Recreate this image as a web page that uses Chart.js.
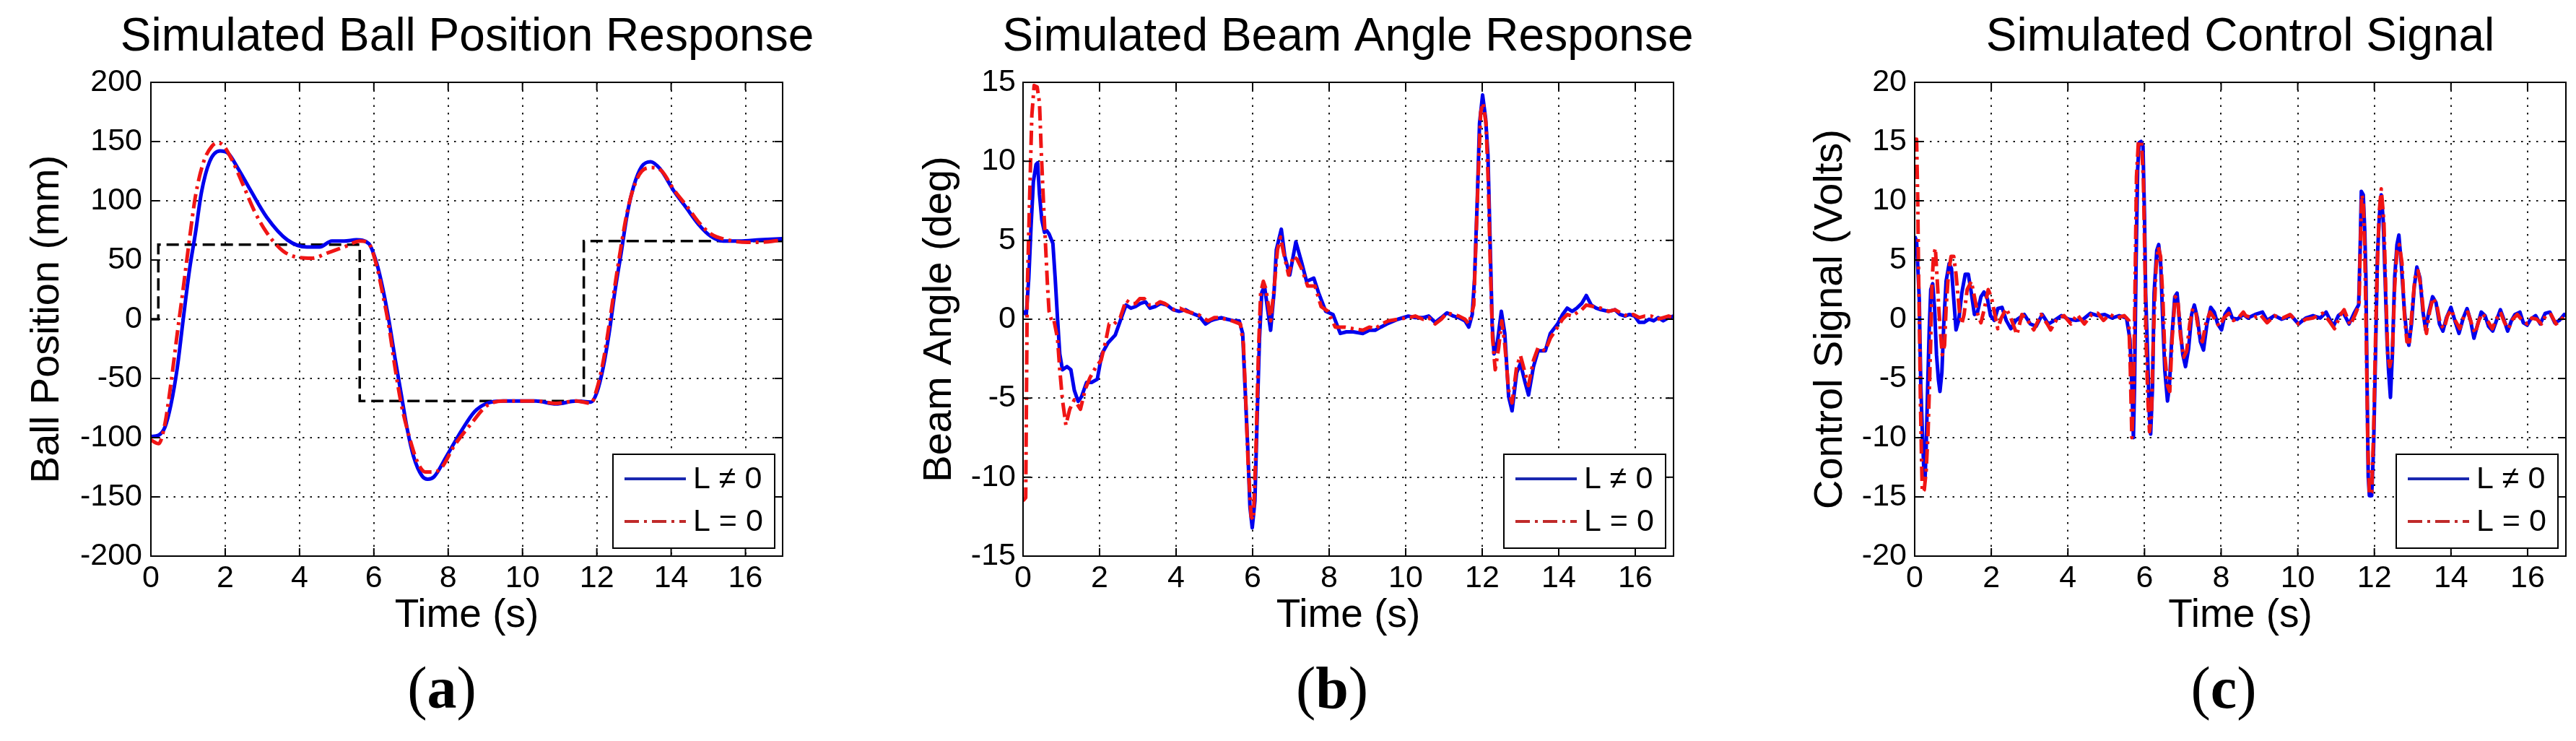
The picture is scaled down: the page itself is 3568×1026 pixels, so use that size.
<!DOCTYPE html>
<html>
<head>
<meta charset="utf-8">
<script src="https://cdn.jsdelivr.net/npm/chart.js@4.4.1/dist/chart.umd.min.js"></script>
<style>
html, body { margin:0; padding:0; background:#fff; width:3568px; height:1026px; overflow:hidden; }
body { position:relative; }
canvas { position:absolute; top:0; }
.cap { position:absolute; font-family:"Liberation Serif","Times New Roman",serif; font-size:82px; line-height:82px; color:#000; white-space:nowrap; transform:translateX(-50%); }
.cap b { font-weight:bold; }
</style>
</head>
<body>
<canvas id="cA" width="1294" height="1026" style="left:0px"></canvas>
<canvas id="cB" width="1374" height="1026" style="left:1180px"></canvas>
<canvas id="cC" width="1470" height="1026" style="left:2368px"></canvas>
<div class="cap" style="left:612px;top:912px">(<b>a</b>)</div>
<div class="cap" style="left:1845px;top:912px">(<b>b</b>)</div>
<div class="cap" style="left:3080px;top:912px">(<b>c</b>)</div>
<script>
// ---------------- DATA ----------------
const xTicks = [0, 2, 4, 6, 8, 10, 12, 14, 16];
const yTicksA = [-200, -150, -100, -50, 0, 50, 100, 150, 200];
const yTicksB = [-15, -10, -5, 0, 5, 10, 15];
const yTicksC = [-20, -15, -10, -5, 0, 5, 10, 15, 20];

const titles = ['Simulated Ball Position Response', 'Simulated Beam Angle Response', 'Simulated Control Signal'];
const yTitles = ['Ball Position (mm)', 'Beam Angle (deg)', 'Control Signal (Volts)'];
const xTitle = 'Time (s)';
const seriesLabels = ['L \u2260 0', 'L = 0'];

// (a) ball position: reference step [time, mm]
const ballRef = [[0,0],[0.2,0],[0.2,63],[5.62,63],[5.62,-69],[11.65,-69],[11.65,66],[17,66]];
// (a) ball position, L != 0
const ballBlue = [[0,-99],[0.2,-98],[0.38,-91],[0.54,-72],[0.71,-41],[0.87,0],[1.04,42],[1.2,73],[1.36,107],[1.58,133],[1.86,142],[2.08,140],[2.35,127],[2.68,109],[3.12,86],[3.67,67],[4.2,61],[4.54,61],[4.87,66],[5.2,66],[5.53,67],[5.86,64],[6.08,47],[6.24,26],[6.41,-2],[6.57,-33],[6.74,-64],[6.9,-93],[7.07,-116],[7.29,-132],[7.45,-135],[7.62,-133],[7.95,-116],[8.38,-93],[8.71,-78],[9.04,-71],[9.48,-69],[10.36,-69],[10.9,-71.5],[11.45,-69],[11.84,-70],[12.0,-62],[12.17,-41],[12.33,-12],[12.49,24],[12.66,57],[12.82,89],[12.99,112],[13.21,129],[13.45,133],[13.7,127],[14.08,108],[14.41,94],[14.74,80],[15.07,70],[15.4,66],[15.84,66],[16.39,67],[17,68]];
// (a) ball position, L = 0
const ballRed = [[0,-102],[0.21,-105],[0.38,-88],[0.54,-54],[0.71,-12],[0.87,26],[1.04,68],[1.2,104],[1.42,133],[1.64,146],[1.8,149],[1.97,146],[2.19,134],[2.46,115],[2.79,91],[3.12,73],[3.56,57.5],[4.0,52],[4.33,51.5],[4.76,56],[5.2,61],[5.64,66],[5.86,64],[6.08,44.5],[6.24,21],[6.41,-7],[6.57,-41],[6.74,-72],[6.96,-100],[7.18,-121],[7.39,-129],[7.62,-129],[7.83,-125],[8.16,-107],[8.6,-89],[9.04,-73],[9.48,-69],[10.36,-69],[10.9,-71],[11.45,-69],[11.84,-71],[12.0,-59],[12.17,-36],[12.33,-5],[12.49,29],[12.66,63],[12.82,91],[12.99,111],[13.21,125],[13.48,128],[13.75,125],[14.08,109],[14.41,96],[14.74,82],[15.07,72],[15.51,67],[16.06,65],[16.39,65],[17,67]];

// (b) beam angle [time, deg]
const beamBlue = [[0,0.5],[0.085,0.3],[0.15,2.6],[0.21,5.9],[0.27,8.7],[0.34,9.8],[0.38,9.9],[0.43,7.9],[0.49,6.3],[0.56,5.5],[0.62,5.6],[0.68,5.4],[0.78,4.8],[0.84,2.6],[0.9,0.1],[0.96,-2.2],[1.03,-3.2],[1.15,-3.0],[1.25,-3.2],[1.34,-4.5],[1.44,-5.2],[1.53,-4.9],[1.66,-4.0],[1.79,-4.0],[1.94,-3.8],[2.06,-2.2],[2.22,-1.5],[2.41,-1.0],[2.57,0.1],[2.69,0.9],[2.82,0.7],[2.94,0.8],[3.07,1.0],[3.2,1.1],[3.32,0.7],[3.45,0.8],[3.6,1.0],[3.76,0.9],[3.92,0.6],[4.08,0.5],[4.25,0.6],[4.39,0.4],[4.6,0.2],[4.77,-0.3],[4.9,-0.1],[5.02,0],[5.18,0.1],[5.33,0],[5.5,-0.1],[5.65,-0.1],[5.74,-0.9],[5.8,-4.2],[5.87,-8],[5.93,-11.9],[5.99,-13.2],[6.06,-11.5],[6.12,-6.1],[6.18,-1.2],[6.24,1.7],[6.31,2.1],[6.4,0.5],[6.47,-0.7],[6.56,1.7],[6.62,4.4],[6.75,5.7],[6.84,4.0],[6.97,2.8],[7.13,4.9],[7.28,3.6],[7.41,2.4],[7.6,2.6],[7.72,1.7],[7.91,0.5],[8.1,0.3],[8.29,-0.9],[8.45,-0.8],[8.63,-0.8],[8.88,-0.9],[9.05,-0.7],[9.2,-0.7],[9.35,-0.5],[9.51,-0.3],[9.8,0],[10.07,0.2],[10.25,0.1],[10.45,0.1],[10.6,0.2],[10.77,-0.2],[10.93,0.1],[11.08,0.4],[11.25,0.2],[11.39,0.1],[11.55,-0.1],[11.65,-0.5],[11.74,0.3],[11.8,2.6],[11.87,7.5],[11.93,12.4],[12.01,14.2],[12.09,12.7],[12.15,10.4],[12.21,4.6],[12.26,-0.3],[12.31,-2.2],[12.4,-1.4],[12.5,0.5],[12.59,-0.9],[12.69,-4.9],[12.78,-5.8],[12.9,-3.4],[13.0,-2.8],[13.12,-4.0],[13.21,-4.8],[13.34,-3.0],[13.46,-2.0],[13.65,-2.0],[13.78,-0.9],[13.97,-0.3],[14.1,0.3],[14.22,0.7],[14.35,0.5],[14.47,0.7],[14.6,1.0],[14.72,1.5],[14.85,0.9],[14.98,0.7],[15.1,0.6],[15.3,0.5],[15.47,0.6],[15.6,0.3],[15.73,0.2],[15.85,0.3],[15.98,0.2],[16.1,-0.2],[16.23,-0.2],[16.36,0],[16.48,-0.1],[16.6,0.1],[16.73,-0.1],[16.87,0.1],[17,0.2]];
const beamRed = [[0,-11.5],[0.07,-11.3],[0.11,1.7],[0.17,7.5],[0.23,12.9],[0.29,14.8],[0.37,14.7],[0.43,13.7],[0.48,10.4],[0.54,7.1],[0.59,4.6],[0.64,2.1],[0.68,0.5],[0.76,-0.2],[0.81,-0.1],[0.9,-1.2],[0.96,-3.2],[1.03,-5.1],[1.12,-6.7],[1.22,-5.7],[1.34,-5.1],[1.5,-5.7],[1.63,-4.4],[1.75,-3.7],[1.91,-3.0],[2.04,-2.6],[2.16,-1.4],[2.25,-0.3],[2.38,-0.3],[2.54,0.1],[2.69,1.2],[2.82,1.0],[2.94,1.0],[3.05,1.3],[3.17,1.3],[3.3,0.9],[3.45,0.9],[3.58,1.1],[3.7,1.0],[3.82,0.8],[3.95,0.6],[4.1,0.7],[4.27,0.5],[4.42,0.4],[4.58,0.3],[4.7,0.1],[4.83,-0.1],[5.0,0.1],[5.14,0.1],[5.3,0],[5.46,-0.1],[5.68,-0.3],[5.76,-1.6],[5.82,-5.1],[5.88,-9.0],[5.96,-12.5],[6.02,-12.7],[6.09,-8.0],[6.15,-2.2],[6.21,1.7],[6.28,2.4],[6.35,1.9],[6.47,-0.1],[6.56,1.9],[6.65,4.4],[6.73,5.2],[6.81,4.2],[6.94,2.8],[7.06,4.0],[7.16,3.8],[7.28,3.2],[7.44,2.1],[7.63,2.1],[7.79,0.8],[7.97,0.5],[8.16,-0.5],[8.41,-0.5],[8.63,-0.6],[8.88,-0.7],[9.05,-0.5],[9.2,-0.6],[9.38,-0.3],[9.55,-0.1],[9.8,0],[10.07,0.1],[10.25,0.2],[10.45,0],[10.6,0.1],[10.77,-0.3],[10.93,0],[11.08,0.4],[11.25,0.3],[11.39,0.2],[11.55,0],[11.65,-0.3],[11.78,0.9],[11.84,5.2],[11.9,9.4],[11.96,13.1],[12.02,13.7],[12.1,12.4],[12.16,8.5],[12.21,3.6],[12.27,-1.2],[12.34,-3.2],[12.43,-1.8],[12.51,-0.1],[12.59,-1.6],[12.69,-4.5],[12.78,-5.3],[12.9,-3.0],[13.0,-2.3],[13.12,-3.4],[13.21,-4.2],[13.34,-2.6],[13.46,-1.8],[13.65,-2.0],[13.78,-1.2],[13.97,-0.5],[14.1,0],[14.22,0.3],[14.35,0.2],[14.47,0.4],[14.6,0.6],[14.72,0.9],[14.91,0.8],[15.1,0.7],[15.3,0.5],[15.47,0.6],[15.62,0.4],[15.79,0.2],[15.95,0.3],[16.1,0.1],[16.25,0.2],[16.42,0.2],[16.58,0],[16.73,0.1],[16.87,0.2],[17,0.1]];

// (c) control signal [time, volts]
const ctrlBlue = [[0,7.0],[0.05,6.6],[0.12,1.7],[0.16,-5.6],[0.2,-9.5],[0.24,-12.8],[0.27,-13.6],[0.3,-10.8],[0.34,-5.6],[0.38,-0.9],[0.42,2.5],[0.47,3.0],[0.52,0.9],[0.57,-3.0],[0.62,-5.1],[0.66,-6.1],[0.71,-4.5],[0.76,-0.4],[0.82,3.2],[0.9,4.7],[0.96,4.3],[1.02,1.7],[1.08,-0.9],[1.15,-0.1],[1.23,2.2],[1.32,3.8],[1.4,3.8],[1.48,2.2],[1.56,0.4],[1.64,0.6],[1.73,1.9],[1.81,2.3],[1.9,1.7],[1.98,0.3],[2.08,-0.1],[2.17,0.9],[2.28,1.0],[2.39,-0.1],[2.51,-0.8],[2.64,-0.1],[2.73,0.1],[2.86,0.4],[3.02,-0.4],[3.17,-0.6],[3.33,0.4],[3.49,-0.4],[3.65,-0.1],[3.83,0.3],[4.02,0],[4.21,-0.1],[4.4,0],[4.59,0.5],[4.78,0.3],[4.96,0.4],[5.15,0.1],[5.34,0.3],[5.53,0.1],[5.62,-1.7],[5.67,-5.6],[5.71,-10.0],[5.74,-5.6],[5.78,4.8],[5.82,12.6],[5.86,14.9],[5.91,15.0],[5.96,14.6],[6.0,8.7],[6.03,2.2],[6.08,-3.0],[6.13,-8.3],[6.16,-9.7],[6.21,-5.6],[6.25,2.2],[6.32,5.8],[6.37,6.3],[6.42,4.8],[6.48,-0.4],[6.53,-4.3],[6.6,-6.9],[6.65,-5.6],[6.71,-1.7],[6.79,1.9],[6.85,2.2],[6.92,-0.4],[7.0,-3.0],[7.07,-4.0],[7.15,-2.5],[7.23,0.4],[7.3,1.2],[7.38,0.1],[7.46,-1.9],[7.54,-2.6],[7.63,-0.4],[7.73,1.0],[7.82,0.6],[7.91,-0.4],[8.01,-0.9],[8.1,0.4],[8.2,0.9],[8.29,0.1],[8.42,0],[8.58,0.4],[8.7,0.1],[8.89,0.4],[9.08,0.6],[9.2,-0.1],[9.39,0.3],[9.58,0],[9.83,0.3],[10.02,-0.4],[10.21,0.1],[10.4,0.3],[10.59,0.1],[10.74,0.6],[10.93,-0.6],[11.06,0.3],[11.18,0.6],[11.34,-0.4],[11.47,0.5],[11.59,1.2],[11.63,6.1],[11.66,10.8],[11.71,10.5],[11.75,7.4],[11.78,3.5],[11.81,-5.6],[11.84,-13.3],[11.87,-14.9],[11.93,-14.9],[11.98,-10.8],[12.03,-3.0],[12.08,5.3],[12.13,8.7],[12.18,10.5],[12.23,8.4],[12.28,3.5],[12.33,-1.7],[12.37,-4.3],[12.42,-6.6],[12.47,-3.0],[12.53,3.5],[12.59,6.3],[12.64,7.1],[12.7,4.8],[12.78,0.9],[12.84,-1.2],[12.9,-2.2],[12.97,-0.4],[13.04,2.7],[13.11,4.4],[13.19,3.5],[13.27,0.6],[13.34,-0.9],[13.42,0.6],[13.52,1.9],[13.61,1.4],[13.7,-0.4],[13.79,-1.0],[13.88,0.1],[14.0,1.0],[14.1,-0.1],[14.21,-1.2],[14.32,0.1],[14.42,0.9],[14.51,-0.1],[14.6,-1.6],[14.7,-0.4],[14.79,0.6],[14.89,0.3],[14.98,-0.6],[15.09,-1.0],[15.2,0],[15.29,0.8],[15.39,-0.1],[15.48,-1.0],[15.58,-0.1],[15.67,0.4],[15.8,0.6],[15.89,-0.3],[15.99,-0.5],[16.08,0],[16.21,0.3],[16.33,-0.4],[16.46,0.5],[16.58,0.6],[16.71,-0.3],[16.83,-0.1],[16.96,0.4],[17,0.3]];
const ctrlRed = [[0,15.2],[0.05,15.2],[0.08,10],[0.1,4.3],[0.13,-1.7],[0.15,-6.9],[0.18,-12.0],[0.2,-14.6],[0.25,-14.4],[0.3,-12.8],[0.35,-9.5],[0.38,-6.3],[0.42,-1.7],[0.45,2.7],[0.49,5.3],[0.54,6.0],[0.58,3.8],[0.63,0.9],[0.68,-1.4],[0.72,-3.0],[0.78,-2.2],[0.82,0.9],[0.88,3.8],[0.95,5.3],[1.02,5.3],[1.08,3.8],[1.17,0.6],[1.23,-0.4],[1.29,0.4],[1.37,2.5],[1.48,3.2],[1.56,1.9],[1.65,0.4],[1.73,-0.3],[1.82,0.9],[1.92,2.5],[2.0,1.9],[2.08,0.6],[2.17,-0.8],[2.26,0.1],[2.39,0.9],[2.51,0.1],[2.67,-1.3],[2.8,0.4],[2.95,-0.1],[3.11,-0.9],[3.3,0.4],[3.46,-0.4],[3.55,-0.9],[3.71,0],[3.9,0.3],[4.08,-0.4],[4.24,0.4],[4.43,-0.4],[4.62,0.4],[4.78,0.5],[4.93,-0.1],[5.09,0.4],[5.28,0.1],[5.47,0.3],[5.59,-0.1],[5.63,-4.3],[5.67,-10.0],[5.71,-6.9],[5.75,2.2],[5.79,12.0],[5.84,15.0],[5.92,15.0],[5.97,11.8],[6.01,4.8],[6.04,-1.7],[6.09,-6.9],[6.13,-9.5],[6.18,-8.2],[6.23,-1.7],[6.3,4.3],[6.36,6.1],[6.42,5.3],[6.48,1.7],[6.53,-3.0],[6.6,-5.6],[6.66,-6.1],[6.72,-1.7],[6.8,1.9],[6.87,1.7],[6.94,-1.4],[7.02,-3.2],[7.1,-2.7],[7.18,-0.4],[7.26,0.9],[7.34,0.6],[7.43,-1.4],[7.51,-1.9],[7.6,-0.4],[7.71,0.6],[7.82,0.1],[7.95,-0.6],[8.07,0.1],[8.2,0.5],[8.32,-0.1],[8.45,0.1],[8.58,0.6],[8.64,0.3],[8.83,0.1],[9.02,0.4],[9.2,-0.3],[9.39,0.3],[9.61,0.1],[9.8,0.4],[10.02,-0.4],[10.21,0],[10.4,0.1],[10.65,0.5],[10.81,-0.1],[10.96,-0.8],[11.12,0.4],[11.21,0.8],[11.37,-0.5],[11.5,0.4],[11.6,1.2],[11.63,5.8],[11.67,10.5],[11.71,10],[11.75,5.8],[11.79,-1.7],[11.83,-10.8],[11.87,-14.8],[11.93,-14.6],[11.98,-9.5],[12.03,-1.7],[12.08,4.8],[12.13,9.2],[12.18,11.0],[12.25,8.2],[12.3,2.2],[12.35,-3.0],[12.4,-4.0],[12.47,-3.0],[12.53,2.7],[12.59,5.8],[12.65,6.3],[12.72,4.8],[12.79,0.1],[12.85,-1.9],[12.92,-1.9],[12.98,0.6],[13.06,3.5],[13.14,4.1],[13.22,2.7],[13.3,-0.1],[13.36,-1.2],[13.44,0.6],[13.53,1.8],[13.63,1.2],[13.72,-0.4],[13.82,-0.8],[13.91,0.3],[14.01,0.8],[14.11,-0.1],[14.23,-0.8],[14.34,0.3],[14.44,0.6],[14.54,-0.4],[14.63,-1.2],[14.73,-0.1],[14.82,0.5],[14.95,-0.1],[15.08,-0.8],[15.18,0],[15.29,0.6],[15.4,-0.3],[15.5,-0.8],[15.61,0],[15.73,0.4],[15.86,-0.1],[15.99,-0.4],[16.11,0.1],[16.24,0],[16.36,-0.4],[16.49,0.4],[16.61,0.4],[16.74,-0.4],[16.86,-0.1],[16.96,0.3],[17,0.3]];

// ---------------- STYLE ----------------
const FONT = '"Liberation Sans", Arial, Helvetica, sans-serif';
const BLUE = '#0000ee';
const RED = '#f01515';
const RED_DASH = [20, 7, 4, 7];

const toXY = arr => arr.map(p => ({ x: p[0], y: p[1] }));

function blueSet(arr, smooth) {
  return { label: seriesLabels[0], data: toXY(arr), borderColor: BLUE, legendColor: '#1a28b0', borderWidth: 5,
    pointRadius: 0, borderJoinStyle: 'round', order: 2, showInLegend: true, fill: false,
    cubicInterpolationMode: smooth ? 'monotone' : 'default', tension: 0 };
}
function redSet(arr, smooth) {
  return { label: seriesLabels[1], data: toXY(arr), borderColor: RED, legendColor: '#c02a2a', borderWidth: 5,
    borderDash: RED_DASH, pointRadius: 0, borderJoinStyle: 'round', order: 1, showInLegend: true, fill: false,
    cubicInterpolationMode: smooth ? 'monotone' : 'default', tension: 0 };
}

const framePlugin = {
  id: 'matlabFrame',
  afterDatasetsDraw(chart) {
    const { ctx, chartArea: a } = chart;
    const x = chart.scales.x, y = chart.scales.y;
    ctx.save();
    ctx.setLineDash([]);
    ctx.strokeStyle = '#000';
    ctx.lineWidth = 2;
    const L = 11;
    ctx.beginPath();
    x.ticks.forEach(t => {
      const px = x.getPixelForValue(t.value);
      ctx.moveTo(px, a.bottom); ctx.lineTo(px, a.bottom - L);
      ctx.moveTo(px, a.top); ctx.lineTo(px, a.top + L);
    });
    y.ticks.forEach(t => {
      const py = y.getPixelForValue(t.value);
      ctx.moveTo(a.left, py); ctx.lineTo(a.left + L, py);
      ctx.moveTo(a.right, py); ctx.lineTo(a.right - L, py);
    });
    ctx.stroke();
    ctx.strokeRect(a.left, a.top, a.right - a.left, a.bottom - a.top);

    // legend box (lower right, inside axes)
    const items = chart.data.datasets.filter(d => d.showInLegend);
    const bw = 224, bh = 130;
    const bx = a.right - 11 - bw, by = a.bottom - 11 - bh;
    ctx.fillStyle = '#fff';
    ctx.fillRect(bx, by, bw, bh);
    ctx.lineWidth = 2;
    ctx.strokeStyle = '#000';
    ctx.strokeRect(bx, by, bw, bh);
    const rows = [34, 93];
    items.forEach((d, i) => {
      const yy = by + rows[i];
      ctx.beginPath();
      ctx.setLineDash(d.borderDash || []);
      ctx.strokeStyle = d.legendColor || d.borderColor;
      ctx.lineWidth = 4;
      ctx.moveTo(bx + 16, yy); ctx.lineTo(bx + 101, yy);
      ctx.stroke();
      ctx.setLineDash([]);
      ctx.fillStyle = '#000';
      ctx.font = '43px ' + FONT;
      ctx.textAlign = 'left';
      ctx.textBaseline = 'middle';
      ctx.fillText(d.label, bx + 111, yy + 1);
    });
    ctx.restore();
  }
};

function makeChart(id, cfg) {
  const tickFont = { family: FONT, size: 43, weight: 'normal' };
  return new Chart(document.getElementById(id), {
    type: 'line',
    data: { datasets: cfg.datasets },
    options: {
      responsive: false,
      animation: false,
      devicePixelRatio: 1,
      layout: { padding: 0 },
      plugins: {
        legend: { display: false },
        tooltip: { enabled: false },
        title: {
          display: true, text: cfg.title, fullSize: true, color: '#000',
          font: { family: FONT, size: 64, weight: 'normal', lineHeight: 1.2 },
          padding: { top: 13.7, bottom: 23.5 }
        }
      },
      scales: {
        x: {
          type: 'linear', min: 0, max: 17,
          afterBuildTicks: ax => { ax.ticks = xTicks.map(v => ({ value: v })); },
          afterFit: s => { s.height = 256; },
          ticks: { font: tickFont, color: '#000', padding: 5, maxRotation: 0, autoSkip: false, callback: v => String(v) },
          grid: { color: 'rgba(0,0,0,0.9)', lineWidth: 2, drawTicks: false },
          border: { display: false, dash: [2.5, 8] },
          title: { display: true, text: xTitle, color: '#000', font: { family: FONT, size: 55, lineHeight: 1.2 }, padding: { top: 0, bottom: 140.3 } }
        },
        y: {
          type: 'linear', position: 'left', min: cfg.yTicks[0], max: cfg.yTicks[cfg.yTicks.length - 1],
          afterBuildTicks: ax => { ax.ticks = cfg.yTicks.map(v => ({ value: v })); },
          afterFit: s => { s.width = cfg.yWidth; },
          ticks: { font: tickFont, color: '#000', padding: cfg.yTickPad, autoSkip: false, callback: v => String(v) },
          grid: { color: 'rgba(0,0,0,0.9)', lineWidth: 2, drawTicks: false },
          border: { display: false, dash: [2.5, 8] },
          title: { display: true, text: cfg.yTitle, color: '#000', font: { family: FONT, size: 56, lineHeight: 1.2 }, padding: { top: cfg.yTitlePad, bottom: 0 } }
        },
        yR: {
          type: 'linear', position: 'right', display: true,
          grid: { display: false, drawTicks: false }, border: { display: false },
          ticks: { display: false },
          afterFit: s => { s.width = cfg.rightWidth; }
        }
      }
    },
    plugins: [framePlugin]
  });
}

makeChart('cA', {
  title: titles[0], yTitle: yTitles[0], yTicks: yTicksA,
  yWidth: 209, rightWidth: 210, yTickPad: 12, yTitlePad: 32,
  datasets: [
    blueSet(ballBlue, true),
    redSet(ballRed, true),
    { label: 'reference', data: toXY(ballRef), borderColor: '#000', borderWidth: 3.5, borderDash: [17, 8],
      pointRadius: 0, order: 3, showInLegend: false, fill: false, tension: 0 }
  ]
});

makeChart('cB', {
  title: titles[1], yTitle: yTitles[1], yTicks: yTicksB,
  yWidth: 237, rightWidth: 236, yTickPad: 10, yTitlePad: 88,
  datasets: [ blueSet(beamBlue, false), redSet(beamRed, false) ]
});

makeChart('cC', {
  title: titles[2], yTitle: yTitles[2], yTicks: yTicksC,
  yWidth: 284, rightWidth: 284, yTickPad: 11, yTitlePad: 134,
  datasets: [ blueSet(ctrlBlue, false), redSet(ctrlRed, false) ]
});
</script>
</body>
</html>
